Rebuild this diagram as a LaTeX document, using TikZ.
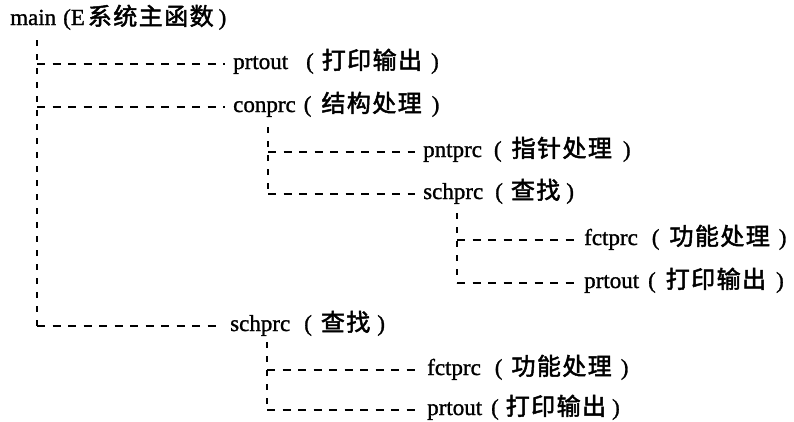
\documentclass[tikz,border=0pt]{standalone}
\usepackage{fontspec}
\setmainfont{Liberation Serif}[FakeBold=1.2]
\newfontfamily\cjk{Noto Sans CJK SC}[FakeBold=2,LetterSpace=6]
\usetikzlibrary{calc}
\newcommand{\cjkfont}{\cjk\fontsize{24pt}{25pt}\selectfont}
\newcommand{\lbl}[5]{#1\hspace{#2pt}(\hspace{#3pt}{\cjkfont #4}\hspace{#5pt})}
\begin{document}
\begin{tikzpicture}[x=1pt,y=1pt,
  lab/.style={anchor=base west,inner sep=0pt,font=\fontsize{23pt}{25pt}\selectfont},
  dh/.style={line width=2pt,dash pattern=on 8pt off 7.5pt},
  dv/.style={line width=2pt,dash pattern=on 6pt off 8pt}]
\useasboundingbox (0,0) rectangle (794,-421);
% nodes
\node[lab] (main) at (10,-25) {main\hspace{7pt}(E\hspace{3pt}{\cjkfont 系统主函数}\hspace{5pt})};
\node[lab] (prtoutA) at (233,-69) {\lbl{prtout}{18}{8}{打印输出}{9}};
\node[lab] (conprc) at (233,-112) {\lbl{conprc}{8}{10}{结构处理}{10}};
\node[lab] (pntprc) at (423,-157) {\lbl{pntprc}{12}{10}{指针处理}{11}};
\node[lab] (schprcA) at (423,-199) {\lbl{schprc}{12}{8}{查找}{6}};
\node[lab] (fctprcA) at (584,-245) {\lbl{fctprc}{14}{10}{功能处理}{9}};
\node[lab] (prtoutB) at (584,-288) {\lbl{prtout}{9}{10}{打印输出}{10}};
\node[lab] (schprcB) at (230,-331) {\lbl{schprc}{14}{9}{查找}{7}};
\node[lab] (fctprcB) at (427,-375) {\lbl{fctprc}{14}{9}{功能处理}{9}};
\node[lab] (prtoutC) at (427,-415) {\lbl{prtout}{9}{7}{打印输出}{6}};
% entry points of connectors
\foreach \n in {prtoutA,conprc,pntprc,schprcA,fctprcA,prtoutB,schprcB,fctprcB,prtoutC}
  \coordinate (\n-in) at ($(\n.base west)+(-8,5)$);
\coordinate (v1) at (37,-40);
\coordinate (v2) at (268,-127);
\coordinate (v3) at (457,-213);
\coordinate (v4) at (267,-342);
% verticals
\draw[dv] (v1) -- (v1 |- schprcB-in);
\draw[dv] (v2) -- (v2 |- schprcA-in);
\draw[dv] (v3) -- (v3 |- prtoutB-in);
\draw[dv] (v4) -- (v4 |- prtoutC-in);
% horizontals
\draw[dh] (v1 |- prtoutA-in) -- (prtoutA-in);
\draw[dh] (v1 |- conprc-in) -- (conprc-in);
\draw[dh] (v1 |- schprcB-in) -- (schprcB-in);
\draw[dh] (v2 |- pntprc-in) -- (pntprc-in);
\draw[dh] (v2 |- schprcA-in) -- (schprcA-in);
\draw[dh] (v3 |- fctprcA-in) -- (fctprcA-in);
\draw[dh] (v3 |- prtoutB-in) -- (prtoutB-in);
\draw[dh] (v4 |- fctprcB-in) -- (fctprcB-in);
\draw[dh] (v4 |- prtoutC-in) -- (prtoutC-in);
\end{tikzpicture}
\end{document}
